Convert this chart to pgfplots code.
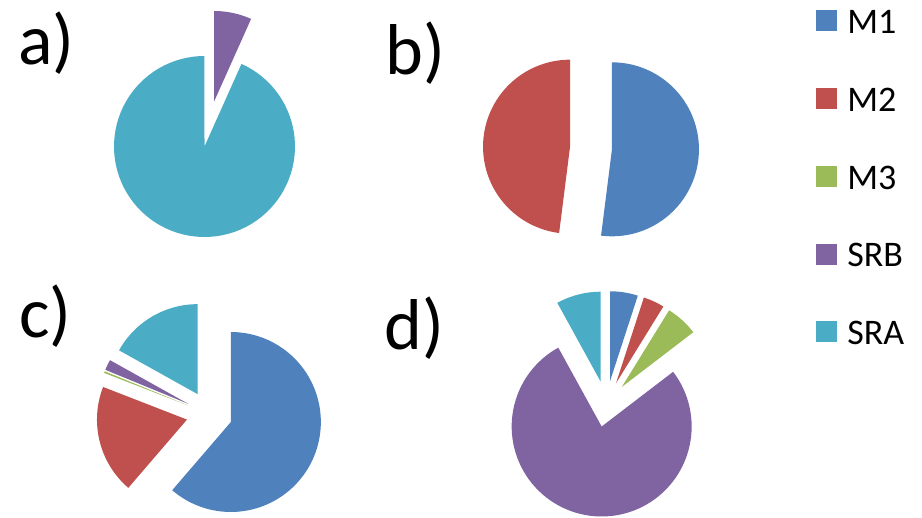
\documentclass[border=0pt]{standalone}
\usepackage{pgfplots}
\pgfplotsset{compat=1.18}
\usepackage{fontspec}
\setmainfont{Carlito}
\definecolor{cM1}{HTML}{4F81BD}
\definecolor{cM2}{HTML}{C0504D}
\definecolor{cM3}{HTML}{9BBB59}
\definecolor{cSRB}{HTML}{8064A2}
\definecolor{cSRA}{HTML}{4BACC6}
\pgfplotsset{sqleg/.style={legend image code/.code={\fill[##1, draw=none] (0pt,-4pt) rectangle (10.5pt,6.5pt);}}}
% one slice: #1 cx, #2 cy, #3 radius, #4 explosion, #5 value (percent), #6 colour
\def\cumpct{0}
\newcommand\pieslice[6]{%
  \pgfmathsetmacro\pieSA{\cumpct*3.6}%
  \pgfmathsetmacro\cumpct{\cumpct+#5}%
  \pgfmathsetmacro\pieEA{\cumpct*3.6}%
  \ifdim #5pt>0pt
    \pgfmathsetmacro\pieMA{(\pieSA+\pieEA)/2}%
    \pgfmathsetmacro\pieX{#1+#4*sin(\pieMA)}%
    \pgfmathsetmacro\pieY{#2-#4*cos(\pieMA)}%
    \edef\pietemp{\noexpand\addplot[forget plot, fill=#6, draw=none, domain=\pieSA:\pieEA, samples=90, variable=\noexpand\t] ({\pieX+#3*sin(\noexpand\t)}, {\pieY-#3*cos(\noexpand\t)}) -- (axis cs:\pieX,\pieY) -- cycle;}%
    \pietemp
  \fi
}
\begin{document}
\begin{tikzpicture}
\begin{axis}[
  scale only axis, width=461pt, height=259pt,
  xmin=0, xmax=922, ymin=0, ymax=518, y dir=reverse,
  hide axis, clip=false,
  legend style={at={(axis cs:816,10)}, anchor=north west, draw=none, fill=none,
    inner sep=0pt, font=\fontsize{18}{21}\selectfont, row sep=25.7pt,
    nodes={inner sep=0pt}, /tikz/every odd column/.append style={column sep=5pt}},
  legend cell align=left,
]
\addlegendimage{sqleg, fill=cM1}
\addlegendimage{sqleg, fill=cM2}
\addlegendimage{sqleg, fill=cM3}
\addlegendimage{sqleg, fill=cSRB}
\addlegendimage{sqleg, fill=cSRA}
\legend{M1,M2,M3,SRB,SRA}
% a)
\def\cumpct{0}
\pieslice{204.5}{146.5}{90.5}{0}{0}{cM1}
\pieslice{204.5}{146.5}{90.5}{0}{0}{cM2}
\pieslice{204.5}{146.5}{90.5}{0}{0}{cM3}
\pieslice{204.5}{146.5}{90.5}{46}{6.7}{cSRB}
\pieslice{204.5}{146.5}{90.5}{0}{93.3}{cSRA}
% b)
\def\cumpct{0}
\pieslice{591}{148}{87}{21}{52}{cM1}
\pieslice{591}{148}{87}{21}{48}{cM2}
\pieslice{591}{148}{87}{21}{0}{cM3}
\pieslice{591}{148}{87}{21}{0}{cSRB}
\pieslice{591}{148}{87}{21}{0}{cSRA}
% c)
\def\cumpct{0}
\pieslice{209.3}{414}{90}{23}{61.3}{cM1}
\pieslice{209.3}{414}{90}{23}{19.6}{cM2}
\pieslice{209.3}{414}{90}{23}{0.3}{cM3}
\pieslice{209.3}{414}{90}{23}{1.9}{cSRB}
\pieslice{209.3}{414}{90}{23}{16.9}{cSRA}
% d)
\def\cumpct{0}
\pieslice{606.4}{404}{90}{23}{5.0}{cM1}
\pieslice{606.4}{404}{90}{23}{3.8}{cM2}
\pieslice{606.4}{404}{90}{23}{5.8}{cM3}
\pieslice{606.4}{404}{90}{23}{77.4}{cSRB}
\pieslice{606.4}{404}{90}{23}{8.0}{cSRA}
\node[anchor=base west, inner sep=0pt, font=\fontsize{36}{42}\selectfont] at (axis cs:18,65) {a)};
\node[anchor=base west, inner sep=0pt, font=\fontsize{36}{42}\selectfont] at (axis cs:385,75) {b)};
\node[anchor=base west, inner sep=0pt, font=\fontsize{36}{42}\selectfont] at (axis cs:19,338) {c)};
\node[anchor=base west, inner sep=0pt, font=\fontsize{36}{42}\selectfont] at (axis cs:384,350) {d)};
\end{axis}
\pgfresetboundingbox
\useasboundingbox (0,0) rectangle (461pt,259pt);
\end{tikzpicture}
\end{document}
